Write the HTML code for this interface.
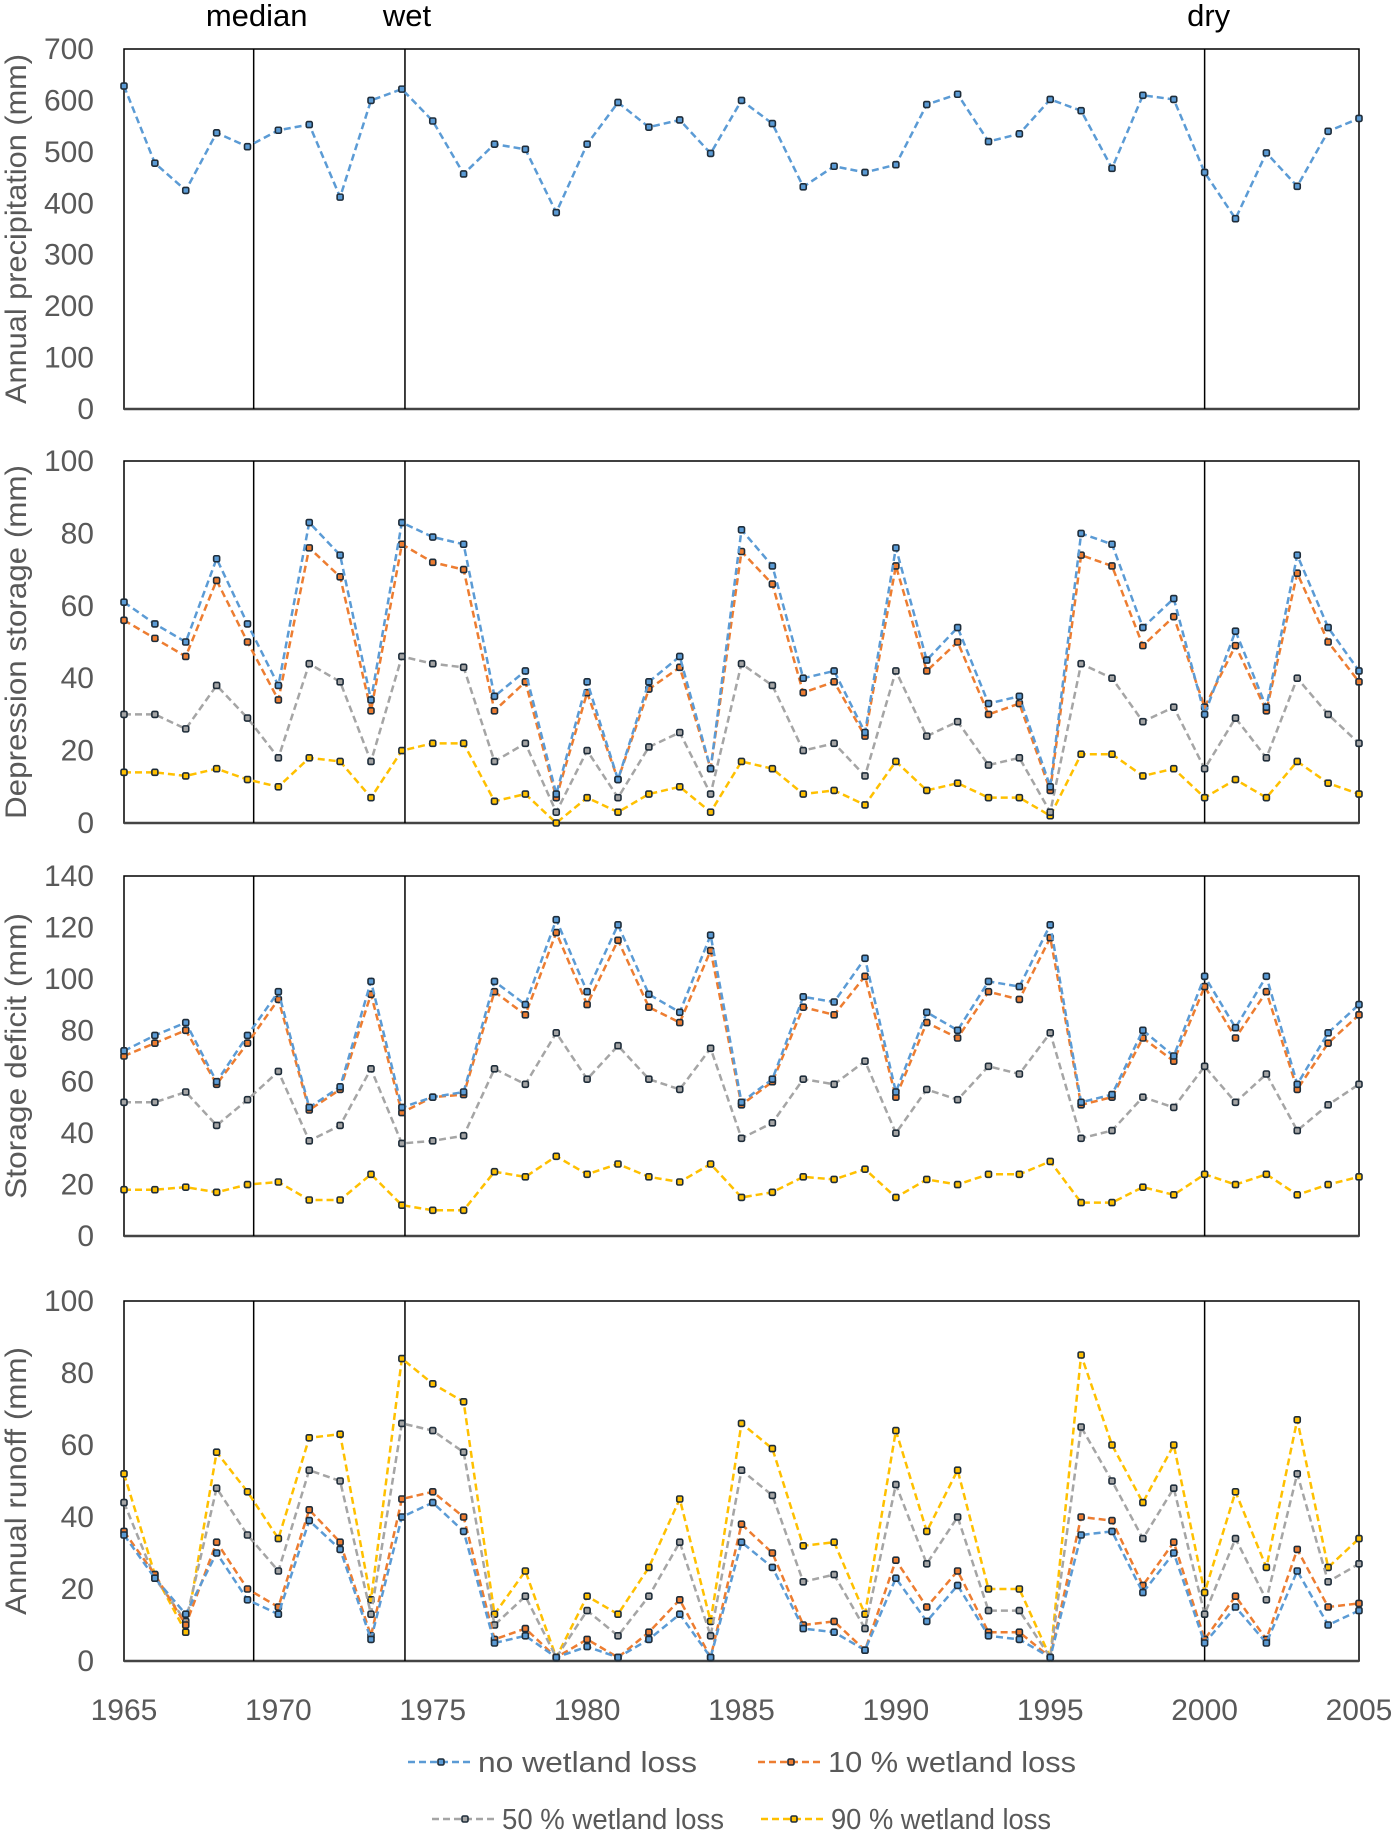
<!DOCTYPE html>
<html><head><meta charset="utf-8"><style>
body{margin:0;background:#fff}
svg{display:block;font-family:"Liberation Sans",sans-serif}
</style></head><body>
<svg id="c" width="1392" height="1833"></svg>
<script>
const years=[];for(let y=1965;y<=2005;y++)years.push(y);
const precip=[628,478,425,537,510,542,553,412,600,622,560,457,515,505,382,515,596,548,562,497,600,555,432,472,460,475,592,612,520,535,602,580,468,610,602,460,370,498,433,540,565];
const dsNo=[61,55,50,73,55,38,83,74,34,83,79,77,35,42,8,39,12,39,46,15,81,71,40,42,25,76,45,54,33,35,10,80,77,54,62,30,53,32,74,54,42];
const ds10=[56,51,46,67,50,34,76,68,31,77,72,70,31,39,7,36,12,37,43,15,75,66,36,39,24,71,42,50,30,33,9,74,71,49,57,32,49,31,69,50,39];
const ds50=[30,30,26,38,29,18,44,39,17,46,44,43,17,22,3,20,7,21,25,8,44,38,20,22,13,42,24,28,16,18,3,44,40,28,32,15,29,18,40,30,22];
const ds90=[14,14,13,15,12,10,18,17,7,20,22,22,6,8,0,7,3,8,10,3,17,15,8,9,5,17,9,11,7,7,2,19,19,13,15,7,12,7,17,11,8];
const sdNo=[72,78,83,60,78,95,50,58,99,50,54,56,99,90,123,95,121,94,87,117,52,61,93,91,108,56,87,80,99,97,121,52,55,80,70,101,81,101,59,79,90];
const sd10=[70,75,80,59,75,92,49,57,94,48,54,55,95,86,118,90,115,89,83,111,51,60,89,86,101,54,83,77,95,92,116,51,54,77,68,97,77,95,57,75,86];
const sd50=[52,52,56,43,53,64,37,43,65,36,37,39,65,59,79,61,74,61,57,73,38,44,61,59,68,40,57,53,66,63,79,38,41,54,50,66,52,63,41,51,59];
const sd90=[18,18,19,17,20,21,14,14,24,12,10,10,25,23,31,24,28,23,21,28,15,17,23,22,26,15,22,20,24,24,29,13,13,19,16,24,20,24,16,20,23];
const roNo=[35,23,13,30,17,13,39,31,6,40,44,36,5,7,1,4,1,6,13,1,33,26,9,8,3,23,11,21,7,6,1,35,36,19,30,5,15,5,25,10,14];
const ro10=[36,24,10,33,20,15,42,33,7,45,47,40,6,9,1,6,1,8,17,1,38,30,10,11,3,28,15,25,8,8,1,40,39,21,33,6,18,6,31,15,16];
const ro50=[44,23,11,48,35,25,53,50,13,66,64,58,10,18,1,14,7,18,33,7,53,46,22,24,9,49,27,40,14,14,1,65,50,34,48,13,34,17,52,22,27];
const ro90=[52,24,8,58,47,34,62,63,17,84,77,72,13,25,1,18,13,26,45,11,66,59,32,33,13,64,36,53,20,20,1,85,60,44,60,19,47,26,67,26,34];
const xTicks=[1965,1970,1975,1980,1985,1990,1995,2000,2005];
const events=[1969.2,1974.1,2000];
const eventLabels=["median","wet","dry"];
const seriesNames=["no wetland loss","10 % wetland loss","50 % wetland loss","90 % wetland loss"];
const colors=["#5b9bd5","#ed7d31","#a5a5a5","#ffc000"];

const svg=document.getElementById('c');const NS='http://www.w3.org/2000/svg';
function el(t,a,p){const e=document.createElementNS(NS,t);for(const k in a)e.setAttribute(k,a[k]);(p||svg).appendChild(e);return e;}
const L=124,R=1359;
const x=y=>L+(y-1965)*(R-L)/40;
const panels=[
 {name:'precipitation-panel',top:49,bot:409,max:700,step:100,title:'Annual precipitation (mm)',tl:350,series:[precip]},
 {name:'depression-storage-panel',top:461,bot:823,max:100,step:20,title:'Depression storage (mm)',tl:354,series:[dsNo,ds10,ds50,ds90]},
 {name:'storage-deficit-panel',top:876,bot:1236,max:140,step:20,title:'Storage deficit (mm)',tl:286,series:[sdNo,sd10,sd50,sd90]},
 {name:'annual-runoff-panel',top:1301,bot:1661,max:100,step:20,title:'Annual runoff (mm)',tl:268,series:[roNo,ro10,ro50,ro90]}];
panels.forEach(p=>{
 const g=el('g',{});
 
 
 const y=v=>p.bot-v*(p.bot-p.top)/p.max;
 el('rect',{x:L,y:p.top,width:R-L,height:p.bot-p.top,fill:'none',stroke:'#000','stroke-width':1.5},g);
 el('line',{x1:L,x2:R,y1:p.bot,y2:p.bot,stroke:'#444','stroke-width':2.5},g);
 for(let v=0;v<=p.max;v+=p.step){const t=el('text',{x:94,y:y(v)+10,'text-anchor':'end','font-size':30,fill:'#595959'},g);t.textContent=v;
  }
 const ty=(p.top+p.bot)/2;
 const tt=el('text',{x:0,y:0,transform:`translate(26,${ty}) rotate(-90)`,'text-anchor':'middle','font-size':30,fill:'#595959',textLength:p.tl,lengthAdjust:'spacingAndGlyphs'},g);
 tt.textContent=p.title;
 events.forEach(e=>{const ln=el('line',{x1:x(e),x2:x(e),y1:p.top,y2:p.bot,stroke:'#000','stroke-width':1.5},g);
  });
 const order=p.series.length>1?[3,2,1,0]:[0];
 order.forEach(si=>{const d=p.series[si];const c=colors[si];
  const pts=d.map((v,i)=>x(years[i])+','+y(v)).join(' ');
  const pl=el('polyline',{points:pts,fill:'none',stroke:c,'stroke-width':2.5,'stroke-dasharray':'7,4'},g);
  
  d.forEach((v,i)=>{const m=el('rect',{x:x(years[i])-3,y:y(v)-3,width:6,height:6,rx:1.5,fill:c,stroke:'#1f2d3a','stroke-width':1.6},g);
   });
 });
});
events.forEach((e,i)=>{const t=el('text',{x:x(e)+(i==2?4:i==0?3:2),y:26,'text-anchor':'middle','font-size':31,fill:'#000'});t.textContent=eventLabels[i];
 });
xTicks.forEach(yr=>{const t=el('text',{x:x(yr),y:1720,'text-anchor':'middle','font-size':30,fill:'#595959'});t.textContent=yr;
 });
const leg=[[408,1762],[758,1762],[432,1819],[761,1819]];
const legLen=[219,248,222,220];
seriesNames.forEach((n,i)=>{const [lx,ly]=leg[i];const g=el('g',{});
 
 el('line',{x1:lx,x2:lx+66,y1:ly,y2:ly,stroke:colors[i],'stroke-width':2.5,'stroke-dasharray':'7,4'},g);
 el('rect',{x:lx+30,y:ly-3,width:6,height:6,rx:1.5,fill:colors[i],stroke:'#1f2d3a','stroke-width':1.6},g);
 const t=el('text',{x:lx+70,y:ly+10,'font-size':29,fill:'#595959',textLength:legLen[i],lengthAdjust:'spacingAndGlyphs'},g);t.textContent=n;});
</script>
</body></html>
